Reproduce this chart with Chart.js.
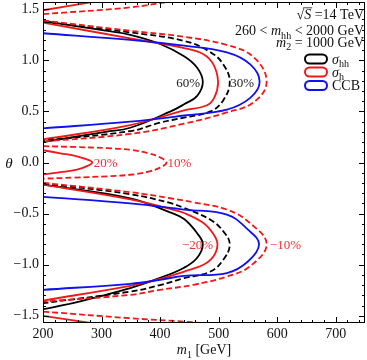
<!DOCTYPE html>
<html>
<head>
<meta charset="utf-8">
<script src="https://cdn.jsdelivr.net/npm/chart.js"></script>
<style>
  html, body { margin: 0; padding: 0; background: #fff; }
  canvas { display: block; }
</style>
</head>
<body>
<canvas id="thetaChart" width="367" height="360"></canvas>
<script>
// axes
const m1Ticks = [200, 300, 400, 500, 600, 700];
const thetaTicks = [-1.5, -1.0, -0.5, 0.0, 0.5, 1.0, 1.5];
const thetaTickLabels = ['\u22121.5', '\u22121.0', '\u22120.5', '0.0', '0.5', '1.0', '1.5'];
const thetaMax = 1.5708;

// contours as [m1, theta]
// upper lobe
const hh60Upper = [[200,1.385],[307,1.29],[349,1.25],[400,1.16],[441,1.04],[463,0.93],[473,0.79],[463,0.65],[441,0.57],[418,0.50],[349,0.34],[307,0.30],[200,0.20]];
const hh30Upper = [[200,1.38],[349,1.273],[441,1.19],[486,1.08],[508,0.96],[519,0.79],[508,0.61],[486,0.50],[441,0.44],[400,0.39],[349,0.307],[200,0.215]];
const h20Upper = [[200,1.37],[349,1.214],[441,1.12],[474,1.06],[491,0.96],[499,0.79],[493,0.64],[480,0.56],[441,0.51],[349,0.366],[200,0.226]];
const ccbUpper = [[200,1.265],[349,1.20],[441,1.143],[514,1.077],[554,0.96],[570,0.79],[554,0.632],[514,0.517],[441,0.46],[349,0.40],[200,0.334]];
const h10Upper = [[200,1.39],[349,1.289],[441,1.23],[514,1.15],[560,1.03],[582,0.79],[560,0.59],[514,0.49],[441,0.38],[349,0.28],[200,0.205]];
// lower lobe
const hh60Lower = [[200,-0.216],[349,-0.35],[417,-0.488],[441,-0.553],[463,-0.69],[473,-0.80],[463,-0.935],[441,-1.03],[400,-1.13],[349,-1.23],[285,-1.328],[251,-1.377],[200,-1.436]];
const hh30Lower = [[200,-0.205],[349,-0.31],[417,-0.396],[441,-0.445],[486,-0.56],[508,-0.674],[519,-0.80],[508,-0.952],[486,-1.067],[441,-1.132],[400,-1.2],[349,-1.263],[200,-1.377]];
const h20Lower = [[200,-0.216],[349,-0.36],[417,-0.454],[441,-0.494],[474,-0.592],[491,-0.70],[498,-0.80],[491,-0.92],[474,-1.0],[441,-1.067],[400,-1.14],[349,-1.207],[200,-1.351]];
const ccbLower = [[200,-0.337],[349,-0.40],[441,-0.461],[514,-0.51],[550,-0.657],[569,-0.80],[550,-0.969],[514,-1.082],[441,-1.109],[400,-1.148],[349,-1.187],[200,-1.246]];
const h10Lower = [[200,-0.199],[349,-0.29],[417,-0.35],[457,-0.39],[514,-0.46],[553,-0.59],[582,-0.80],[553,-1.018],[514,-1.116],[457,-1.197],[400,-1.246],[349,-1.295],[200,-1.361]];
// middle and edges
const h20Center = [[200,0.12],[230,0.09],[258,0.06],[275,0.03],[284,0.0],[275,-0.036],[258,-0.069],[230,-0.095],[200,-0.118]];
const h10Center = [[200,0.16],[253,0.152],[310,0.14],[349,0.125],[380,0.09],[400,0.05],[411,0.0],[400,-0.05],[380,-0.09],[349,-0.12],[310,-0.135],[253,-0.148],[200,-0.158]];
const h20Top = [[200,1.49],[284,1.5708]];
const h10Top = [[200,1.452],[349,1.518],[412,1.5708]];
const h20Bottom = [[200,-1.50],[281,-1.5708]];
const h10Bottom = [[200,-1.459],[349,-1.524],[441,-1.557],[470,-1.5708]];

// contour labels: text, m1, theta
const labelTexts = ['60%', '30%', '20%', '10%', '\u221220%', '\u221210%'];
const labelM1 = [448, 540, 307, 433, 464, 614];
const labelTheta = [0.785, 0.785, 0.0, 0.0, -0.80, -0.80];
const labelDark = [true, true, false, false, false, false];

const RED = '#f01818', BLUE = '#1010f0', BLACK = '#000';
const SERIF = "'Liberation Serif', 'DejaVu Serif', serif";

function curve(pts, color, dashed){
  return {
    data: pts.map(p => ({x: p[0], y: p[1]})),
    showLine: true,
    borderColor: color,
    borderWidth: 1.8,
    borderDash: dashed ? [6, 3] : [],
    pointRadius: 0,
    tension: 0.4,
    fill: false,
    clip: 0
  };
}

const datasets = [
  curve(h10Upper, RED, true), curve(ccbUpper, BLUE, false), curve(hh30Upper, BLACK, true),
  curve(h20Upper, RED, false), curve(hh60Upper, BLACK, false),
  curve(h10Lower, RED, true), curve(ccbLower, BLUE, false), curve(hh30Lower, BLACK, true),
  curve(h20Lower, RED, false), curve(hh60Lower, BLACK, false),
  curve(h10Center, RED, true), curve(h20Center, RED, false),
  curve(h10Top, RED, true), curve(h20Top, RED, false),
  curve(h10Bottom, RED, true), curve(h20Bottom, RED, false)
];

// text with italic / subscript pieces
function rich(ctx, segs, x, base, size, align){
  const f = s => (s.it ? 'italic ' : '') + (s.sub ? size * 0.72 : size) + 'px ' + SERIF;
  let w = 0;
  segs.forEach(s => { ctx.font = f(s); s.w = ctx.measureText(s.t).width; w += s.w; });
  let xx = align === 'right' ? x - w : align === 'center' ? x - w / 2 : x;
  ctx.textAlign = 'left';
  ctx.textBaseline = 'alphabetic';
  segs.forEach(s => {
    ctx.font = f(s);
    ctx.fillText(s.t, xx, base + (s.sub ? size * 0.27 : 0));
    if (s.over){
      ctx.save();
      ctx.lineWidth = 0.8;
      ctx.strokeStyle = ctx.fillStyle;
      ctx.beginPath();
      ctx.moveTo(xx - 1, base - size * 0.8);
      ctx.lineTo(xx + s.w + 1, base - size * 0.8);
      ctx.stroke();
      ctx.restore();
    }
    xx += s.w;
  });
}

const decor = {
  id: 'decor',
  afterDraw(chart){
    const {ctx, chartArea: a, scales: {x, y}} = chart;
    ctx.save();
    ctx.strokeStyle = '#000';
    ctx.lineWidth = 1;
    ctx.strokeRect(a.left + 0.5, a.top + 0.5, a.right - a.left - 1, a.bottom - a.top - 1);

    const seg = (x1, y1, x2, y2) => { ctx.beginPath(); ctx.moveTo(x1, y1); ctx.lineTo(x2, y2); ctx.stroke(); };
    for (let v = 200; v <= 750; v += 20){
      const px = Math.round(x.getPixelForValue(v)) + 0.5;
      const len = v % 100 === 0 ? 6 : 3;
      seg(px, a.bottom, px, a.bottom - len);
      seg(px, a.top, px, a.top + len);
    }
    for (let k = -15; k <= 15; k++){
      const py = Math.round(y.getPixelForValue(k / 10)) + 0.5;
      const len = k % 5 === 0 ? 6 : 3;
      seg(a.left, py, a.left + len, py);
      seg(a.right, py, a.right - len, py);
    }

    // contour labels
    ctx.textAlign = 'center';
    ctx.textBaseline = 'middle';
    ctx.font = '13px ' + SERIF;
    labelTexts.forEach((t, i) => {
      ctx.fillStyle = labelDark[i] ? '#222' : '#ee3030';
      ctx.fillText(t, x.getPixelForValue(labelM1[i]), y.getPixelForValue(labelTheta[i]) + 1);
    });

    // info text
    ctx.fillStyle = '#111';
    const R = a.right - 1;
    rich(ctx, [{t: '\u221A'}, {t: 'S', it: true, over: true}, {t: ' =14 TeV'}], R, 19, 14, 'right');
    rich(ctx, [{t: '260 < '}, {t: 'm', it: true}, {t: 'hh', sub: true}, {t: ' < 2000 GeV'}], R, 35, 14, 'right');
    rich(ctx, [{t: 'm', it: true}, {t: '2', sub: true}, {t: ' = 1000 GeV'}], R, 46.5, 14, 'right');

    // legend
    const legend = [[BLACK, [{t: '\u03C3', it: true}, {t: 'hh', sub: true}], 59],
                    [RED, [{t: '\u03C3', it: true}, {t: 'h', sub: true}], 72],
                    [BLUE, [{t: 'CCB'}], 85.5]];
    legend.forEach(([c, segs, cy]) => {
      ctx.strokeStyle = c;
      ctx.lineWidth = 2;
      ctx.beginPath();
      ctx.roundRect(305, cy - 4.5, 22, 9, 4.5);
      ctx.stroke();
      ctx.fillStyle = '#111';
      rich(ctx, segs, 332, cy + 4.5, 14, 'left');
    });

    // axis titles
    ctx.fillStyle = '#111';
    rich(ctx, [{t: '\u03B8', it: true}], 9, 168, 15, 'center');
    rich(ctx, [{t: 'm', it: true}, {t: '1', sub: true}, {t: ' [GeV]'}], (a.left + a.right) / 2, 354, 14, 'center');
    ctx.restore();
  }
};

new Chart(document.getElementById('thetaChart'), {
  type: 'scatter',
  data: { datasets },
  plugins: [decor],
  options: {
    responsive: false,
    devicePixelRatio: 1,
    animation: false,
    layout: { padding: { left: 0, right: 2, top: 2, bottom: 0 } },
    plugins: { legend: { display: false }, tooltip: { enabled: false } },
    scales: {
      x: {
        type: 'linear', min: 200, max: 750,
        grid: { display: false, drawTicks: false },
        border: { display: false },
        afterBuildTicks: s => { s.ticks = m1Ticks.map(v => ({value: v})); },
        afterFit: s => { s.height = 37; s.paddingLeft = 0; s.paddingRight = 0; },
        ticks: { autoSkip: false, maxRotation: 0, padding: 3, color: '#111',
                 font: { family: SERIF, size: 14 }, callback: v => String(v) }
      },
      y: {
        type: 'linear', min: -thetaMax, max: thetaMax,
        grid: { display: false, drawTicks: false },
        border: { display: false },
        afterBuildTicks: s => { s.ticks = thetaTicks.map(v => ({value: v})); },
        afterFit: s => { s.width = 43; s.paddingTop = 0; s.paddingBottom = 0; },
        ticks: { autoSkip: false, padding: 4, color: '#111',
                 font: { family: SERIF, size: 14 },
                 callback: v => thetaTickLabels[thetaTicks.indexOf(v)] }
      }
    }
  }
});
</script>
</body>
</html>
